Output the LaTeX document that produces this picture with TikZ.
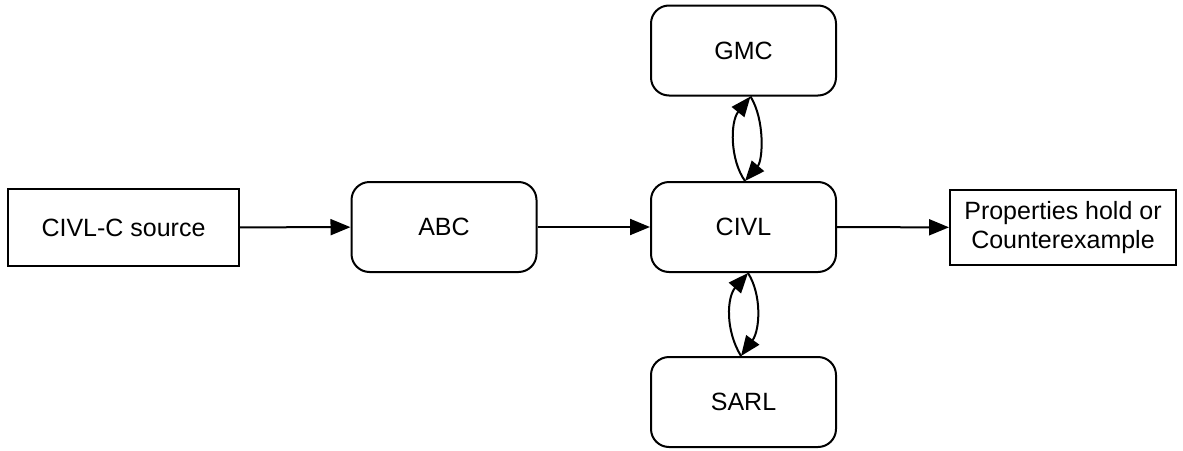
\documentclass[tikz,border=0pt]{standalone}
\usepackage{fontspec}
\setmainfont{Liberation Sans}
\usetikzlibrary{arrows.meta}
\tikzset{
  lbl/.style={font=\fontsize{25}{29}\selectfont, line width=2pt, inner sep=0pt},
  sqbox/.style={lbl, draw},
  rbox/.style={lbl, draw, rounded corners=18pt, minimum width=185pt, minimum height=90pt},
  conn/.style={line width=2pt, arrows={-Triangle[length=20pt, width=16pt]}}
}
\begin{document}
\begin{tikzpicture}[x=1pt,y=-1pt]
\useasboundingbox (0,0) rectangle (1183,450);
\node[sqbox, minimum width=231pt, minimum height=77pt] (src) at (123.5,227.5) {CIVL-C source};
\node[rbox] (abc) at (444,227) {ABC};
\node[rbox] (civl) at (743.5,227) {CIVL};
\node[rbox] (gmc) at (743.5,50.5) {GMC};
\node[rbox] (sarl) at (743.5,402) {SARL};
\node[sqbox, minimum width=226pt, minimum height=75pt, align=center] (out) at (1063,227.5) {Properties hold or\\Counterexample};
\draw[conn] (src) -- (abc);
\draw[conn] (abc) -- (civl);
\draw[conn] (civl) -- (out);
% GMC lens
\coordinate (gt) at ([xshift=7pt]gmc.south);
\coordinate (cb) at ([xshift=1.5pt]civl.north);
\draw[conn] (cb) .. controls (730,160) and (730,122) .. (gt);
\draw[conn] (gt) .. controls (765,120) and (763,160) .. (cb);
% SARL lens
\coordinate (ct) at ([xshift=4.5pt]civl.south);
\coordinate (sb) at ([xshift=-2.5pt]sarl.north);
\draw[conn] (sb) .. controls (725,330) and (727,297) .. (ct);
\draw[conn] (ct) .. controls (762,295) and (760,330) .. (sb);
\end{tikzpicture}
\end{document}
